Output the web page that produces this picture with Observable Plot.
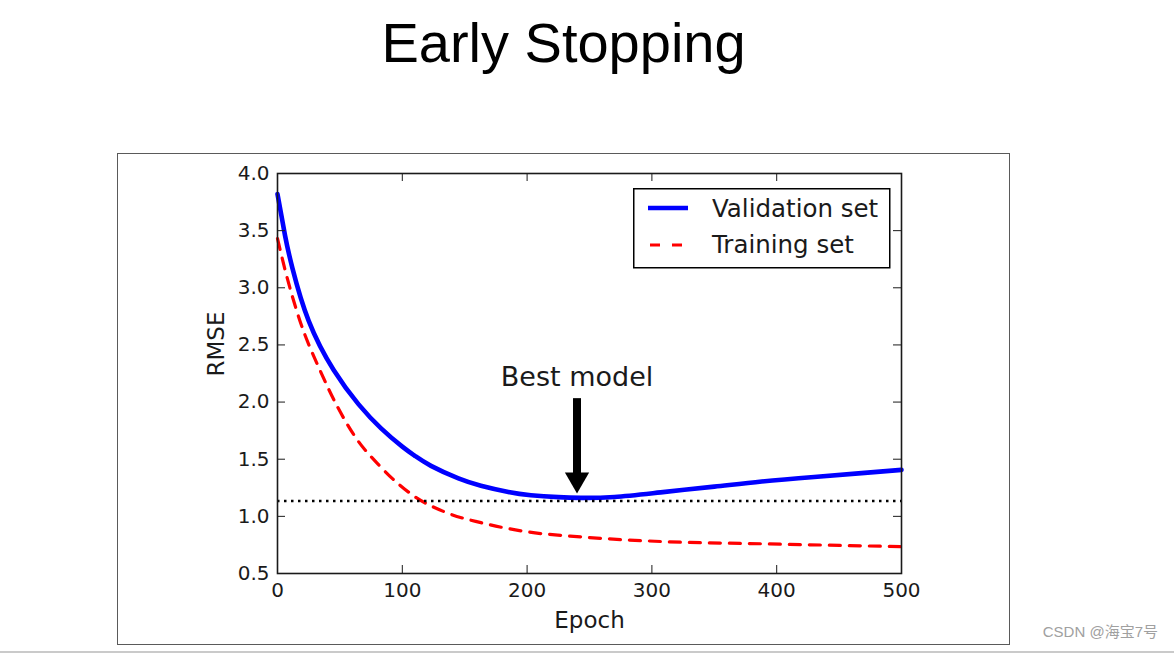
<!DOCTYPE html>
<html>
<head>
<meta charset="utf-8">
<script src="https://cdn.jsdelivr.net/npm/d3@7"></script>
<script src="https://cdn.jsdelivr.net/npm/@observablehq/plot@0.6"></script>
<style>
  html, body { margin: 0; padding: 0; background: #fff; width: 1174px; height: 654px; overflow: hidden; position: relative; }
  #title { position: absolute; left: 0; top: 15px; width: 1127px; text-align: center;
           font-family: "Liberation Sans", Arial, sans-serif; font-size: 56px; line-height: 56px; color: #000; }
  #box { position: absolute; left: 117px; top: 153px; width: 891px; height: 490px; border: 1px solid #5a5a5a; }
  #chart svg { display: block; }
  #legend { position: absolute; left: 633px; top: 188px; }
  #wm { position: absolute; right: 16px; top: 624px; font-family: "Liberation Sans", "Noto Sans CJK SC", sans-serif;
        font-size: 15px; line-height: 15px; color: #a0a0a0; }
  #bottomline { position: absolute; left: 0; top: 651px; width: 1174px; height: 2px; background: #cacaca; }
</style>
</head>
<body>
<div id="title">Early Stopping</div>
<div id="box"><div id="chart"></div></div>
<div id="legend"></div>
<div id="wm">CSDN @海宝7号</div>
<div id="bottomline"></div>
<script>
// ---- data ----
const epochsVal = [0, 6, 12, 25, 45, 65, 83, 100, 110, 123, 145, 163, 185, 203, 225, 243, 270, 307, 350, 388, 430, 468, 500];
const valRmse   = [3.82, 3.46, 3.17, 2.71, 2.28, 1.98, 1.77, 1.61, 1.530, 1.442, 1.332, 1.268, 1.213, 1.185, 1.168, 1.162, 1.17, 1.21, 1.26, 1.305, 1.345, 1.378, 1.407];

const epochsTrain = [0, 6, 18, 34, 48, 62, 82, 109, 136, 163, 200, 243, 307, 388, 500];
const trainRmse   = [3.43, 3.16, 2.71, 2.28, 1.96, 1.70, 1.44, 1.18, 1.03, 0.945, 0.865, 0.82, 0.78, 0.76, 0.735];

const xTicks = [0, 100, 200, 300, 400, 500];
const xTickLabels = ["0", "100", "200", "300", "400", "500"];
const yTicks = [0.5, 1.0, 1.5, 2.0, 2.5, 3.0, 3.5, 4.0];
const yTickLabels = ["0.5", "1.0", "1.5", "2.0", "2.5", "3.0", "3.5", "4.0"];

const seriesNames = ["Validation set", "Training set"];
const seriesColors = ["#0000ff", "#ff0000"];

const bestEpoch = 240;
const bestLevel = 1.134;      // dotted horizontal line
const arrowFrom = 2.03;       // arrow tail (RMSE)
const arrowTo = 1.20;         // arrow tip (RMSE)
const annotationLevel = 2.145;
const annotationText = "Best model";
const xLabel = "Epoch";
const yLabel = "RMSE";

// ---- tables built from the arrays ----
const valData = epochsVal.map((e, i) => ({epoch: e, rmse: valRmse[i]}));
const trainData = epochsTrain.map((e, i) => ({epoch: e, rmse: trainRmse[i]}));
const arrowData = [{epoch: bestEpoch, from: arrowFrom, to: arrowTo}];

const ink = "#1a1a1a";

const chart = Plot.plot({
  width: 891,
  height: 490,
  marginLeft: 159,
  marginRight: 108,
  marginTop: 19,
  marginBottom: 71,
  x: {domain: [0, 500]},
  y: {domain: [0.5, 4]},
  style: {fontFamily: '"DejaVu Sans", sans-serif', fontSize: "20px", color: ink, background: "transparent", overflow: "visible"},
  marks: [
    Plot.line(trainData, {x: "epoch", y: "rmse", stroke: seriesColors[1], strokeWidth: 3.2, strokeDasharray: "11,9", curve: "monotone-x"}),
    Plot.line(valData, {x: "epoch", y: "rmse", stroke: seriesColors[0], strokeWidth: 4.6, curve: "natural"}),
    Plot.ruleY([bestLevel], {stroke: "black", strokeWidth: 2.5, strokeDasharray: "2.5,4.5"}),
    // annotation arrow
    Plot.ruleX(arrowData, {x: "epoch", y1: "from", y2: "to", stroke: "black", strokeWidth: 8, insetBottom: 18}),
    Plot.dot(arrowData, {x: "epoch", y: "to", symbol: "triangle", r: 9, rotate: 180, fill: "black", stroke: "none", dy: -14}),
    Plot.text([annotationText], {x: bestEpoch, y: annotationLevel, text: d => d, lineAnchor: "bottom", fontSize: 27, fill: ink}),
    // inward ticks on all four sides
    Plot.tickX(xTicks, {x: d => d, insetTop: 392, stroke: ink}),
    Plot.tickX(xTicks, {x: d => d, insetBottom: 392, stroke: ink}),
    Plot.tickY(yTicks, {y: d => d, insetRight: 616, stroke: ink}),
    Plot.tickY(yTicks, {y: d => d, insetLeft: 616, stroke: ink}),
    // tick labels
    Plot.axisX(xTicks, {tickSize: 0, tickPadding: 9, fontSize: 20, label: null, tickFormat: d => xTickLabels[xTicks.indexOf(d)]}),
    Plot.axisY(yTicks, {tickSize: 0, tickPadding: 8, fontSize: 20, label: null, tickFormat: d => yTickLabels[yTicks.indexOf(d)]}),
    // axis titles
    Plot.text([xLabel], {frameAnchor: "bottom", text: d => d, lineAnchor: "bottom", dy: 54, fontSize: 23, fill: ink}),
    Plot.text([yLabel], {frameAnchor: "left", text: d => d, rotate: -90, lineAnchor: "bottom", dx: -54, dy: 3, fontSize: 23, fill: ink}),
    Plot.frame({stroke: ink, strokeWidth: 1.6})
  ]
});
document.getElementById("chart").appendChild(chart);

// ---- legend (HTML/SVG overlay) ----
const ns = "http://www.w3.org/2000/svg";
const lg = document.createElementNS(ns, "svg");
lg.setAttribute("width", 258);
lg.setAttribute("height", 81);
const rect = document.createElementNS(ns, "rect");
rect.setAttribute("x", 0.75); rect.setAttribute("y", 0.75);
rect.setAttribute("width", 256); rect.setAttribute("height", 79);
rect.setAttribute("fill", "white"); rect.setAttribute("stroke", "black"); rect.setAttribute("stroke-width", 1.5);
lg.appendChild(rect);
const rows = [{cy: 20, base: 28.7, dash: null, w: 4.6, x1: 15, x2: 55}, {cy: 57, base: 65.3, dash: "10,12", w: 3.2, x1: 17, x2: 49}];
seriesNames.forEach((name, i) => {
  const r = rows[i];
  const ln = document.createElementNS(ns, "line");
  ln.setAttribute("x1", r.x1); ln.setAttribute("x2", r.x2);
  ln.setAttribute("y1", r.cy); ln.setAttribute("y2", r.cy);
  ln.setAttribute("stroke", seriesColors[i]); ln.setAttribute("stroke-width", r.w);
  if (r.dash) ln.setAttribute("stroke-dasharray", r.dash);
  lg.appendChild(ln);
  const t = document.createElementNS(ns, "text");
  t.setAttribute("x", 79); t.setAttribute("y", r.base);
  t.setAttribute("font-family", '"DejaVu Sans", sans-serif');
  t.setAttribute("font-size", 24.5);
  t.setAttribute("fill", ink);
  t.textContent = name;
  lg.appendChild(t);
});
document.getElementById("legend").appendChild(lg);
</script>
</body>
</html>
